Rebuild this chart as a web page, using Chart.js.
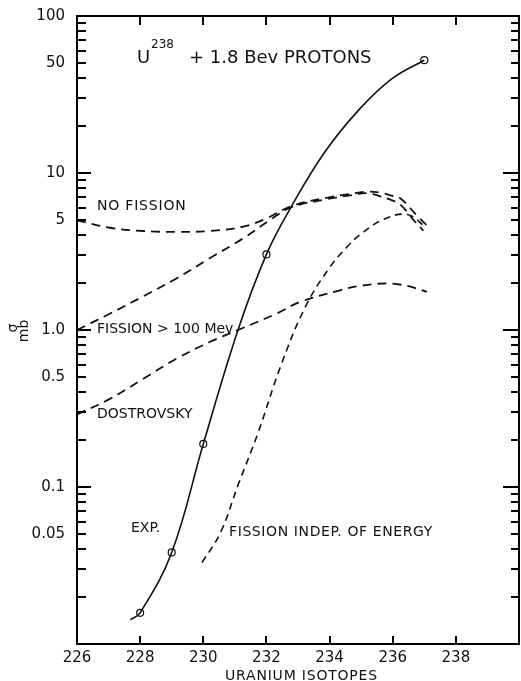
<!DOCTYPE html>
<html>
<head>
<meta charset="utf-8">
<script src="https://cdn.jsdelivr.net/npm/chart.js@4.4.1/dist/chart.umd.min.js"></script>
<style>
    html, body { margin: 0; padding: 0; background: #fff; }
    #wrap { width: 521px; height: 681px; position: relative; }
</style>
</head>
<body>
<div id="wrap"><canvas id="chart"></canvas></div>
<script>
// Uranium isotope mass number (x) and cross section in mb (y)
const expIsotopes = [227.69, 228, 229, 230, 231.1, 232, 232.79, 233.86, 234.97, 236.0, 237];
const expSigma = [0.0143, 0.0158, 0.0383, 0.188, 1.0, 3.03, 6.11, 13.7, 25.8, 40.2, 52.3];

const expPointIsotopes = [228, 229, 230, 232, 237];
const expPointSigma = [0.0158, 0.0383, 0.188, 3.03, 52.3];

const noFissionIsotopes = [226, 227.04, 228.1, 229.15, 230.2, 231.26, 232.0, 232.79, 233.9, 234.65, 235.2, 235.6, 235.95, 236.24, 236.77, 237.1];
const noFissionSigma = [5.0, 4.48, 4.27, 4.22, 4.27, 4.55, 5.14, 6.15, 6.95, 7.35, 7.6, 7.5, 7.18, 6.9, 5.35, 4.6];

const fission100Isotopes = [226, 227.04, 228.1, 229.15, 230.2, 231.26, 232.1, 232.79, 233.9, 234.65, 235.2, 235.6, 235.95, 236.24, 236.66, 236.97];
const fission100Sigma = [1.0, 1.27, 1.64, 2.13, 2.86, 3.83, 5.0, 6.05, 6.8, 7.2, 7.45, 7.1, 6.74, 6.3, 5.02, 4.29];

const dostrovskyIsotopes = [226, 227.04, 228.1, 229.15, 230.2, 231.1, 232.31, 233.07, 234.33, 234.97, 235.82, 236.45, 237.08];
const dostrovskySigma = [0.29, 0.364, 0.489, 0.656, 0.838, 1.0, 1.27, 1.51, 1.79, 1.91, 1.98, 1.91, 1.75];

const fissionIndepIsotopes = [229.96, 230.54, 231.11, 231.74, 232.44, 233.23, 234.02, 234.56, 234.97, 235.7, 236.46, 237.03];
const fissionIndepSigma = [0.033, 0.051, 0.104, 0.223, 0.58, 1.4, 2.53, 3.39, 4.05, 5.05, 5.44, 4.55];

const xTickValues = [226, 228, 230, 232, 234, 236, 238];
const yTickValues = [100, 50, 10, 5, 1, 0.5, 0.1, 0.05];
const yTickLabels = ['100', '50', '10', '5', '1.0', '0.5', '0.1', '0.05'];

const FONT = 'DejaVu Sans';
const INK = '#111';

function toPoints(xs, ys) {
    return xs.map((x, i) => ({ x: x, y: ys[i] }));
}

function curve(label, xs, ys, dash, width) {
    return {
        label: label,
        data: toPoints(xs, ys),
        borderColor: INK,
        borderWidth: width,
        borderDash: dash,
        pointRadius: 0,
        fill: false,
        tension: 0.4
    };
}

// inward tick marks on the isotope axes come from the grid with a negative tick length
function isotopeGrid(len) {
    return {
        display: true,
        drawOnChartArea: false,
        drawTicks: true,
        tickLength: len,
        color: '#000',
        lineWidth: 2
    };
}

// frame, inward log ticks and the hand-lettered annotations
const framePlugin = {
    id: 'framePlugin',
    afterDraw(chart) {
        const ctx = chart.ctx;
        const a = chart.chartArea;
        const sy = chart.scales.y;
        const L = Math.round(a.left), R = Math.round(a.right);
        const T = Math.round(a.top), B = Math.round(a.bottom);
        ctx.save();
        ctx.fillStyle = '#000';

        // frame
        ctx.fillRect(L - 1, T - 1, R - L + 2, 2);
        ctx.fillRect(L - 1, B - 1, R - L + 2, 2);
        ctx.fillRect(L - 1, T - 1, 2, B - T + 2);
        ctx.fillRect(R - 1, T - 1, 2, B - T + 2);

        // inward log ticks, left and right
        for (let d = -2; d <= 1; d++) {
            for (let k = 1; k <= 9; k++) {
                const py = Math.round(sy.getPixelForValue(k * Math.pow(10, d)));
                const lenL = k === 1 ? 14 : 9;
                const lenR = k === 1 ? 16 : 8;
                ctx.fillRect(L, py - 1, lenL, 2);
                ctx.fillRect(R - lenR, py - 1, lenR, 2);
            }
        }

        ctx.fillStyle = INK;
        ctx.textBaseline = 'alphabetic';
        ctx.textAlign = 'left';

        ctx.font = '18px ' + FONT;
        ctx.fillText('U', 137, 63);
        ctx.font = '12px ' + FONT;
        ctx.fillText('238', 151, 48);
        ctx.font = '18px ' + FONT;
        ctx.fillText('+ 1.8 Bev PROTONS', 189, 63);

        ctx.font = '14px ' + FONT;
        ctx.letterSpacing = '0.8px';
        ctx.fillText('NO FISSION', 97, 210);
        ctx.letterSpacing = '0px';
        ctx.fillText('FISSION > 100 Mev', 97, 333);
        ctx.fillText('DOSTROVSKY', 97, 418);
        ctx.fillText('EXP.', 131, 532);
        ctx.letterSpacing = '0.6px';
        ctx.fillText('FISSION INDEP. OF ENERGY', 229, 536);
        ctx.letterSpacing = '0.8px';
        ctx.fillText('URANIUM ISOTOPES', 225, 680);
        ctx.letterSpacing = '0px';

        // rotated sigma / mb axis title
        ctx.translate(28, 331);
        ctx.rotate(-Math.PI / 2);
        ctx.textAlign = 'center';
        ctx.font = '14px ' + FONT;
        ctx.fillText('mb', 0, 0);
        ctx.fillText('σ', 3, -11);
        ctx.restore();
    }
};

new Chart(document.getElementById('chart'), {
    type: 'line',
    data: {
        datasets: [
            curve('EXP.', expIsotopes, expSigma, [], 1.6),
            curve('NO FISSION', noFissionIsotopes, noFissionSigma, [9, 6], 1.8),
            curve('FISSION > 100 Mev', fission100Isotopes, fission100Sigma, [9, 6], 1.8),
            curve('DOSTROVSKY', dostrovskyIsotopes, dostrovskySigma, [9, 6], 1.8),
            curve('FISSION INDEP. OF ENERGY', fissionIndepIsotopes, fissionIndepSigma, [7, 5], 1.6),
            {
                label: 'EXP. points',
                data: toPoints(expPointIsotopes, expPointSigma),
                showLine: false,
                pointRadius: 3.5,
                pointBackgroundColor: '#fff',
                pointBorderColor: INK,
                pointBorderWidth: 1.2
            }
        ]
    },
    options: {
        responsive: true,
        maintainAspectRatio: false,
        animation: false,
        layout: { autoPadding: false, padding: { top: 16, right: 2, left: 0, bottom: 0 } },
        plugins: {
            legend: { display: false },
            tooltip: { enabled: false }
        },
        scales: {
            x: {
                type: 'linear',
                position: 'bottom',
                min: 226,
                max: 240,
                grid: isotopeGrid(-8),
                border: { display: false },
                afterBuildTicks: scale => {
                    scale.ticks = xTickValues.map(v => ({ value: v }));
                },
                afterFit: scale => { scale.height = 37; },
                ticks: {
                    padding: 13,
                    color: INK,
                    font: { family: FONT, size: 15 },
                    maxRotation: 0,
                    callback: v => String(v)
                }
            },
            xTop: {
                type: 'linear',
                position: 'top',
                min: 226,
                max: 240,
                grid: isotopeGrid(-9),
                border: { display: false },
                afterBuildTicks: scale => {
                    scale.ticks = xTickValues.map(v => ({ value: v }));
                },
                afterFit: scale => { scale.height = 0; },
                ticks: { display: false }
            },
            y: {
                type: 'logarithmic',
                min: 0.01,
                max: 100,
                grid: { display: false, drawTicks: false },
                border: { display: false },
                afterBuildTicks: scale => {
                    scale.ticks = yTickValues.map(v => ({ value: v }));
                },
                afterFit: scale => {
                    scale.width = 77;
                    scale.paddingTop = 0;
                    scale.paddingBottom = 0;
                },
                ticks: {
                    padding: 12,
                    color: INK,
                    font: { family: FONT, size: 15 },
                    callback: v => {
                        const i = yTickValues.indexOf(v);
                        return i >= 0 ? yTickLabels[i] : '';
                    }
                }
            }
        }
    },
    plugins: [framePlugin]
});
</script>
</body>
</html>
